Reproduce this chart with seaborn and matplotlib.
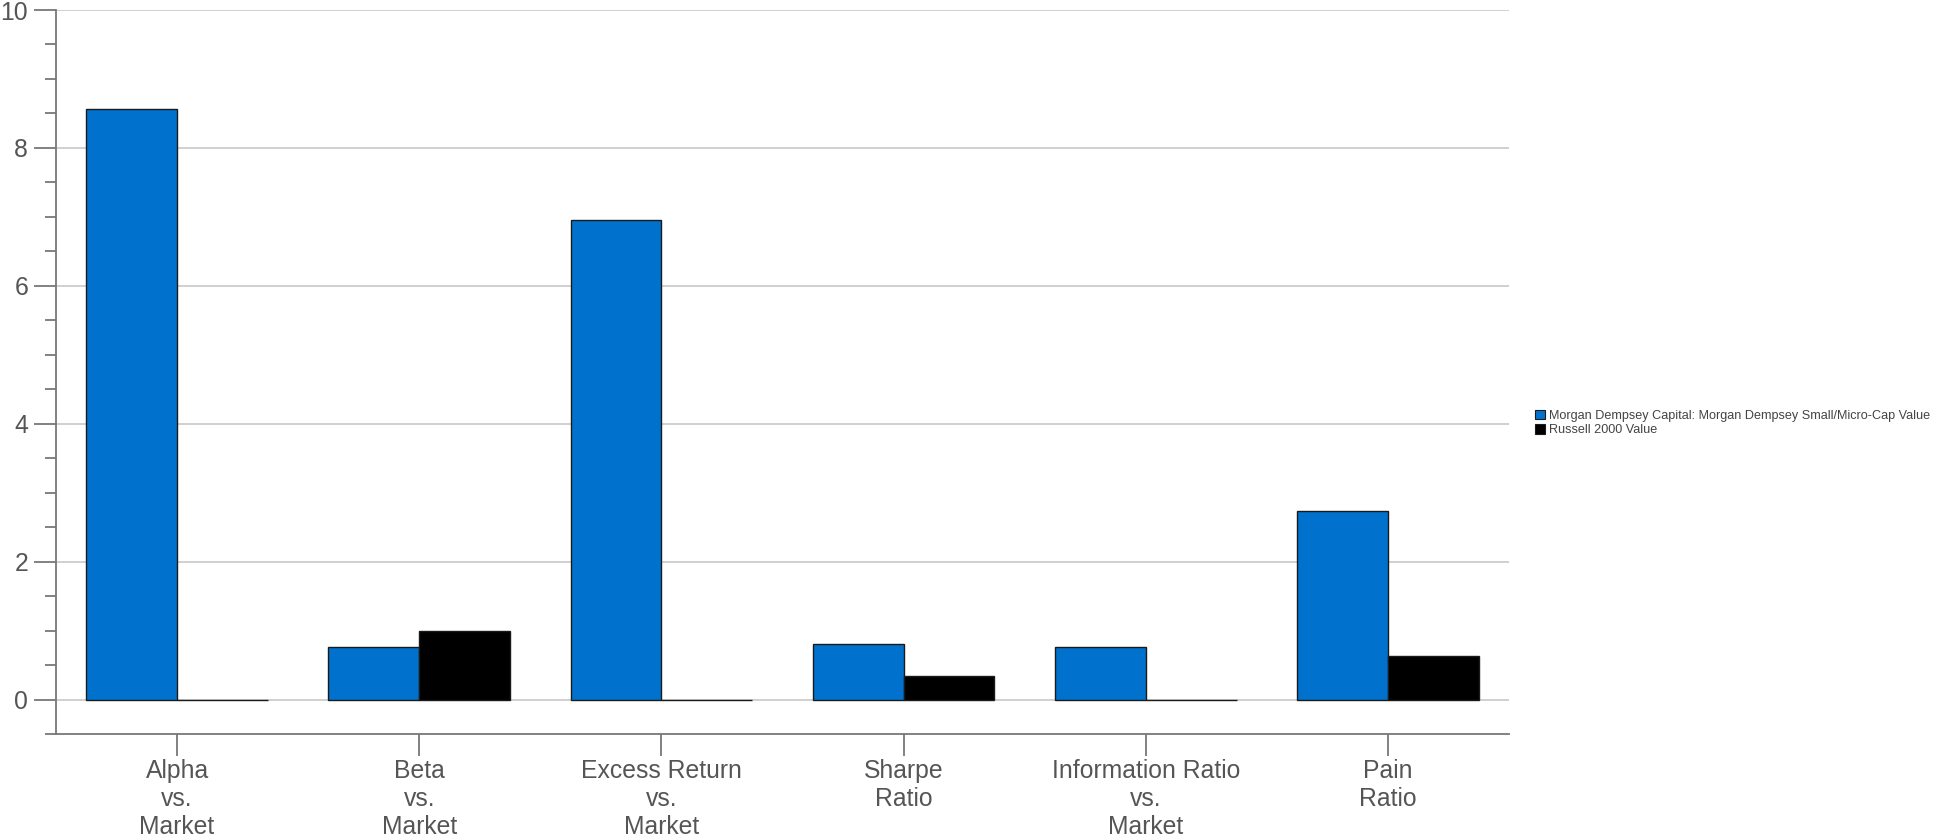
import matplotlib
matplotlib.use("Agg")
import matplotlib.pyplot as plt
import seaborn as sns
import pandas as pd
import numpy as np
from matplotlib.ticker import MultipleLocator
from matplotlib.patches import Patch

categories = ["Alpha\nvs.\nMarket", "Beta\nvs.\nMarket", "Excess Return\nvs.\nMarket",
              "Sharpe\nRatio", "Information Ratio\nvs.\nMarket", "Pain\nRatio"]
series_names = ["Morgan Dempsey Capital: Morgan Dempsey Small/Micro-Cap Value",
                "Russell 2000 Value"]
fund_values = [8.56, 0.76, 6.95, 0.81, 0.765, 2.73]
bench_values = [0.0, 1.0, 0.0, 0.335, 0.0, 0.625]
colors = ["#0072CE", "#000000"]

df = pd.DataFrame({
    "category": categories * 2,
    "series": [series_names[0]] * len(categories) + [series_names[1]] * len(categories),
    "value": fund_values + bench_values,
})

sns.set_theme(style="white")
plt.rcParams["font.family"] = ["Liberation Sans", "DejaVu Sans"]

fig = plt.figure(figsize=(19.5, 8.4), dpi=100)
ax = fig.add_axes([56 / 1950, 1 - 734 / 840, (1509 - 56) / 1950, (734 - 10) / 840])

sns.barplot(data=df, x="category", y="value", hue="series", order=categories,
            hue_order=series_names, palette=colors, saturation=1, width=0.75, gap=0,
            edgecolor="#1a1a1a", linewidth=1.0, ax=ax, legend=False, zorder=3)

ax.set_xlim(-0.5, len(categories) - 0.5)
ax.set_ylim(-0.5, 10)
ax.yaxis.set_minor_locator(MultipleLocator(0.5))
ax.set_yticks(np.arange(0, 10.1, 2))
ax.set_yticklabels([str(v) for v in range(0, 11, 2)])

for y in np.arange(0, 10.1, 2):
    ax.axhline(y, color="#c8c8c8", linewidth=1.2, zorder=1)

for s in ["top", "right"]:
    ax.spines[s].set_visible(False)
for s in ["left", "bottom"]:
    ax.spines[s].set_color("#777777")
    ax.spines[s].set_linewidth(1.3)

ax.tick_params(axis="y", which="major", length=16, width=1.3, color="#777777",
               labelsize=17.8, labelcolor="#555555", pad=4, left=True)
ax.tick_params(axis="y", which="minor", length=8, width=1.3, color="#777777", left=True)
ax.tick_params(axis="x", which="major", length=16, width=1.3, color="#777777",
               labelsize=17.8, labelcolor="#555555", pad=2, bottom=True)
for lbl in ax.get_xticklabels():
    lbl.set_linespacing(1.22)

ax.set_xlabel("")
ax.set_ylabel("")

handles = [Patch(facecolor=colors[0], edgecolor="#1a1a1a", linewidth=0.8),
           Patch(facecolor=colors[1], edgecolor="#1a1a1a", linewidth=0.8)]
leg = fig.legend(handles, series_names, loc="center left",
                 bbox_to_anchor=(1535 / 1950, 1 - 423 / 840), frameon=False,
                 fontsize=9.1, handlelength=0.8, handleheight=0.8,
                 handletextpad=0.3, labelspacing=0.15, borderpad=0, borderaxespad=0)
for t in leg.get_texts():
    t.set_color("#444444")

fig.savefig("out.png", dpi=100)
